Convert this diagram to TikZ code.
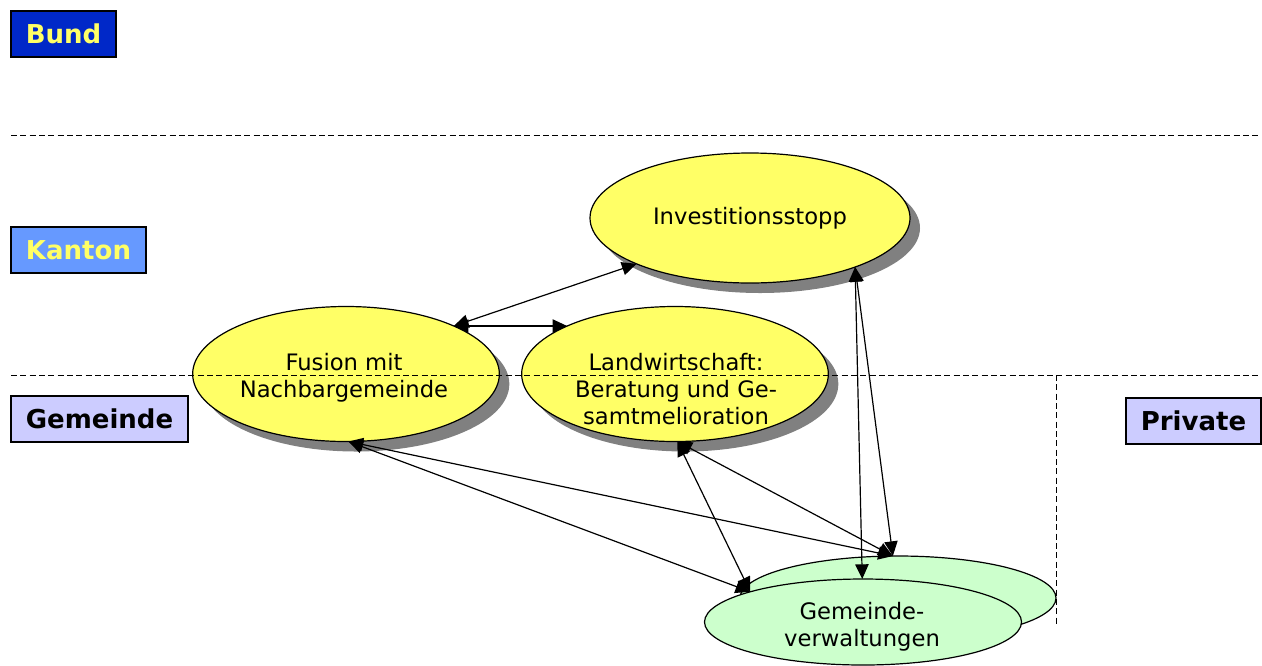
\documentclass[tikz,border=0pt]{standalone}
\usepackage{fontspec}
\setmainfont{DejaVu Sans}
\usetikzlibrary{shapes.geometric,arrows.meta,shadows}
\definecolor{bundblue}{HTML}{0028C8}
\definecolor{kantonblue}{HTML}{6699FF}
\definecolor{lilac}{HTML}{CCCCFF}
\definecolor{paleyellow}{HTML}{FFFF66}
\definecolor{palegreen}{HTML}{CCFFCC}

\tikzset{
  levelbox/.style={draw, line width=0.8pt, minimum height=34.5pt, inner sep=0pt,
    font=\fontsize{19.5}{23}\selectfont\bfseries},
  bubble/.style={ellipse, draw, line width=0.9pt, fill=paleyellow, inner sep=0pt,
    outer sep=0pt, align=center, font=\fontsize{17}{20.25}\selectfont,
    drop shadow={shadow xshift=7.5pt, shadow yshift=-7.5pt, fill=gray, opacity=1}},
  office/.style={ellipse, draw, line width=0.9pt, fill=palegreen, inner sep=0pt,
    outer sep=0pt, align=center, font=\fontsize{17}{19.5}\selectfont},
  caption/.style={align=center, inner sep=0pt, font=\fontsize{17}{20.25}\selectfont},
  link/.style={{Triangle[length=11pt,width=10pt]}-{Triangle[length=11pt,width=10pt]},
    line width=0.9pt},
  divider/.style={dash pattern=on 4.5pt off 2.5pt, line width=0.7pt}
}

\begin{document}
\begin{tikzpicture}[x=0.75pt, y=-0.75pt]
    \useasboundingbox (0,0) rectangle (1262,665);

    % Levels
    \node[levelbox, fill=bundblue, text=paleyellow, minimum width=78.75pt] (bund) at (63.5,34) {Bund};
    \node[levelbox, fill=kantonblue, text=paleyellow, minimum width=101.25pt] (kanton) at (78.5,250) {Kanton};
    \node[levelbox, fill=lilac, minimum width=132.75pt] (gemeinde) at (99.5,419) {Gemeinde};
    \node[levelbox, fill=lilac, minimum width=101.25pt] (private) at (1193.5,421) {Private};

    % Measures
    \node[bubble, minimum width=240pt, minimum height=97.5pt] (stopp) at (750,218) {Investitionsstopp};
    \node[bubble, minimum width=230pt, minimum height=101.25pt] (fusion) at (346,374) {};
    \node[caption] (fusiontext) at (344,378) {Fusion mit\\Nachbargemeinde};
    \node[bubble, minimum width=230pt, minimum height=101.25pt] (landw) at (675,374) {};
    \node[caption] (landwtext) at (676,389) {Landwirtschaft:\\Beratung und Ge-\\samtmelioration};

    % Administrations
    \node[office, minimum width=237pt, minimum height=63pt] (verwB) at (898,598) {};
    \node[office, minimum width=237.75pt, minimum height=64.5pt] (verwA) at (863,622) {};
    \node[caption] (verwtext) at (862,627) {Gemeinde-\\verwaltungen};

    % Borders between levels
    \draw[divider] (11,135) -- (1260,135);
    \draw[divider] (11,375) -- (1260,375);
    \draw[divider] (1056,375) -- (1056,625);

    % Links
    \draw[link] (stopp.202) -- (fusion.24);
    \draw[link] (fusion.24) -- (landw.156);
    \draw[link] (stopp.335) -- (verwA.91);
    \draw[link] (stopp.335) -- (verwB.97);
    \foreach \m in {fusion,landw} {
        \draw[link] (\m.272) -- (verwA.165);
        \draw[link] (\m.272) -- (verwB.97);
    }
\end{tikzpicture}
\end{document}
